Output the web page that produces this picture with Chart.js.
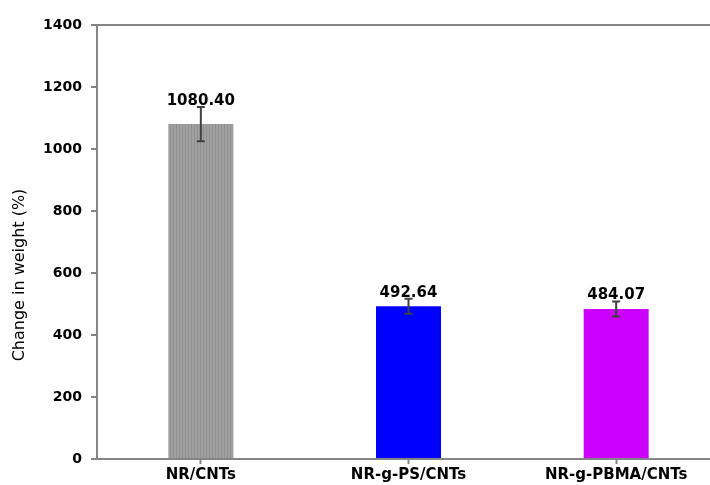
<!DOCTYPE html>
<html lang="en">
<head>
    <meta charset="UTF-8">
    <title>Change in weight</title>
    <style>
        body {
            margin: 0;
            background: #fff;
        }
        #wrap {
            width: 710px;
            height: 485px;
            overflow: hidden;
        }
    </style>
</head>
<body>
    <div id="wrap">
        <canvas id="weightChart" width="722" height="485"></canvas>
    </div>

    <script src="https://cdn.jsdelivr.net/npm/chart.js@4/dist/chart.umd.min.js"></script>
    <script>

    const categories = ["NR/CNTs", "NR-g-PS/CNTs", "NR-g-PBMA/CNTs"];
    const weightChange = [1080.40, 492.64, 484.07];
    const weightError = [55, 24, 24];
    const valueLabels = ["1080.40", "492.64", "484.07"];
    const yMax = 1400;
    const yStep = 200;

    const axisGray = "#858585";
    const fontFamily = "'DejaVu Sans', sans-serif";

    // fine vertical hatching for the NR/CNTs bar
    function stripePattern() {
        let c = document.createElement("canvas");
        c.width = 3;
        c.height = 4;
        let g = c.getContext("2d");
        g.fillStyle = "#a0a0a0";
        g.fillRect(0, 0, 3, 4);
        g.fillStyle = "#909090";
        g.fillRect(2, 0, 1, 4);
        return g.createPattern(c, "repeat");
    }

    const barColors = [stripePattern(), "#0000ff", "#cc00ff"];

    // error bars plus the value written above each one
    const errorBars = {
        id: "errorBars",
        afterDatasetsDraw(chart) {
            const ctx = chart.ctx;
            const yScale = chart.scales.y;
            const meta = chart.getDatasetMeta(0);
            ctx.save();
            meta.data.forEach((bar, i) => {
                const hi = yScale.getPixelForValue(weightChange[i] + weightError[i]);
                const lo = yScale.getPixelForValue(weightChange[i] - weightError[i]);
                ctx.strokeStyle = "#404040";
                ctx.lineWidth = 2;
                ctx.beginPath();
                ctx.moveTo(bar.x, hi);
                ctx.lineTo(bar.x, lo);
                ctx.moveTo(bar.x - 4, hi);
                ctx.lineTo(bar.x + 4, hi);
                ctx.moveTo(bar.x - 4, lo);
                ctx.lineTo(bar.x + 4, lo);
                ctx.stroke();

                ctx.fillStyle = "#000";
                ctx.font = "bold 15px " + fontFamily;
                ctx.textAlign = "center";
                ctx.textBaseline = "alphabetic";
                ctx.fillText(valueLabels[i], bar.x, hi - 2);
            });
            ctx.restore();
        }
    };

    // y axis title, sits a little below the middle of the axis
    const yTitle = {
        id: "yTitle",
        afterDraw(chart) {
            const ctx = chart.ctx;
            const area = chart.chartArea;
            ctx.save();
            ctx.translate(20, (area.top + area.bottom) / 2 + 33);
            ctx.rotate(-Math.PI / 2);
            ctx.fillStyle = "#000";
            ctx.font = "16px " + fontFamily;
            ctx.textAlign = "center";
            ctx.textBaseline = "middle";
            ctx.fillText("Change in weight (%)", 0, 0);
            ctx.restore();
        }
    };

    new Chart(document.getElementById("weightChart"), {
        type: "bar",
        data: {
            labels: categories,
            datasets: [{
                data: weightChange,
                backgroundColor: barColors,
                borderWidth: 0,
                categoryPercentage: 1,
                barPercentage: 0.313
            }]
        },
        options: {
            responsive: false,
            animation: false,
            layout: {
                padding: { top: 25, right: 2, bottom: 0, left: 0 }
            },
            scales: {
                x: {
                    offset: true,
                    afterFit: (scale) => { scale.height = 26; },
                    border: { color: axisGray, width: 2 },
                    grid: {
                        offset: false,
                        drawOnChartArea: false,
                        tickLength: 5,
                        tickColor: axisGray,
                        tickWidth: 2
                    },
                    ticks: {
                        color: "#000",
                        padding: 2,
                        maxRotation: 0,
                        font: { family: fontFamily, size: 15, weight: "bold" }
                    }
                },
                y: {
                    min: 0,
                    max: yMax,
                    afterFit: (scale) => { scale.width = 97; },
                    border: { color: axisGray, width: 2 },
                    grid: {
                        color: (c) => c.tick && c.tick.value === yMax ? axisGray : "transparent",
                        lineWidth: 2,
                        tickLength: 6,
                        tickColor: axisGray,
                        tickWidth: 2
                    },
                    ticks: {
                        stepSize: yStep,
                        color: "#000",
                        padding: 9,
                        callback: (value) => String(value),
                        font: { family: fontFamily, size: 14, weight: "bold" }
                    }
                }
            },
            plugins: {
                legend: { display: false },
                tooltip: { enabled: false }
            }
        },
        plugins: [errorBars, yTitle]
    });

    </script>
</body>
</html>
